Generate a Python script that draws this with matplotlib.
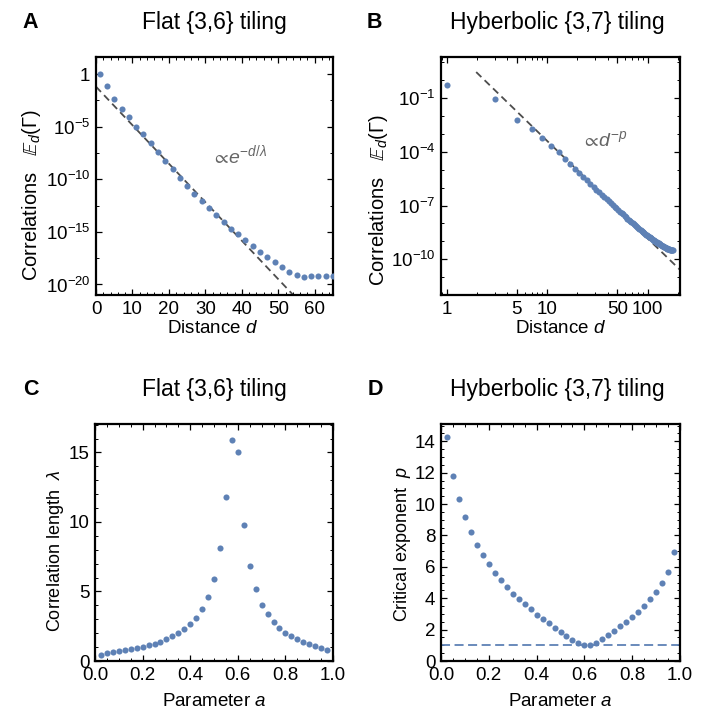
import numpy as np
import matplotlib
matplotlib.use("Agg")
import matplotlib.pyplot as plt
from matplotlib.ticker import FixedLocator, FixedFormatter, MultipleLocator, NullFormatter, LogLocator

plt.rcParams['font.family'] = ['Liberation Sans', 'DejaVu Sans']
plt.rcParams['mathtext.fontset'] = 'custom'
plt.rcParams['mathtext.rm'] = 'Liberation Sans'
plt.rcParams['mathtext.it'] = 'Liberation Sans:italic'
plt.rcParams['mathtext.bf'] = 'Liberation Sans:bold'
plt.rcParams['mathtext.fallback'] = 'stixsans'

BLUE = '#5e81b5'
GREY = '#4d4d4d'

# --- panel A: flat {3,6}, correlations vs distance (log10 values)
dist_flat = np.arange(1, 66, 2)
logE_flat = [0.0, -1.14, -2.41, -3.30, -4.12, -5.01, -5.74, -6.59, -7.42, -8.24,
             -9.06, -9.86, -10.62, -11.41, -12.11, -12.77, -13.44, -14.07, -14.74, -15.24,
             -15.78, -16.36, -16.89, -17.40, -17.88, -18.35, -18.80, -19.12, -19.25, -19.23,
             -19.22, -19.21, -19.21]
fit_flat = (0.0, 55.0, -1.2, -0.366)   # d0, d1, intercept, slope of log10 fit

# --- panel B: hyperbolic {3,7}
dist_hyp = np.arange(1, 178, 2)
logE_hyp = [-0.27, -1.02, -2.20, -2.74, -3.25, -3.70, -4.02, -4.41, -4.70, -4.98,
            -5.20, -5.41, -5.60, -5.79, -5.95, -6.11, -6.26, -6.40, -6.53, -6.65,
            -6.76, -6.87, -6.97, -7.07, -7.16, -7.25, -7.34, -7.42, -7.50, -7.58,
            -7.65, -7.73, -7.80, -7.87, -7.93, -7.99, -8.05, -8.11, -8.17, -8.22,
            -8.27, -8.32, -8.37, -8.42, -8.46, -8.50, -8.54, -8.58, -8.62, -8.66,
            -8.70, -8.74, -8.77, -8.81, -8.84, -8.87, -8.90, -8.93, -8.96, -8.99,
            -9.02, -9.04, -9.07, -9.10, -9.12, -9.15, -9.17, -9.19, -9.22, -9.24,
            -9.26, -9.28, -9.30, -9.32, -9.34, -9.36, -9.38, -9.39, -9.41, -9.42,
            -9.43, -9.44, -9.45, -9.46, -9.47, -9.475, -9.48, -9.48, -9.48]
fit_hyp = (1.97, 215.0, 2.064, -5.45)   # d0, d1, intercept, exponent (log10 y = b + m log10 d)

# --- panels C, D: vs parameter a
param_a = np.arange(1, 40) * 0.025
corr_len = [0.45, 0.55, 0.65, 0.72, 0.80, 0.88, 0.95, 1.03, 1.13, 1.25,
            1.40, 1.57, 1.77, 2.00, 2.28, 2.65, 3.10, 3.72, 4.60, 5.90,
            8.10, 11.8, 15.9, 15.0, 9.80, 6.80, 5.15, 4.05, 3.35, 2.80,
            2.40, 2.05, 1.80, 1.60, 1.40, 1.22, 1.08, 0.95, 0.82]
crit_exp = [14.3, 11.8, 10.3, 9.15, 8.2, 7.4, 6.75, 6.15, 5.6, 5.15,
            4.7, 4.3, 3.95, 3.6, 3.3, 2.95, 2.65, 2.4, 2.12, 1.85,
            1.6, 1.35, 1.12, 1.0, 1.0, 1.15, 1.4, 1.65, 1.92, 2.2,
            2.5, 2.8, 3.15, 3.5, 3.92, 4.4, 4.95, 5.7, 6.92]

fig = plt.figure(figsize=(7.07, 7.12), dpi=100)
W, H = 707, 712

def add_ax(x0, y0, x1, y1):
    return fig.add_axes([x0 / W, 1 - y1 / H, (x1 - x0) / W, (y1 - y0) / H])

def style(ax):
    for s in ax.spines.values():
        s.set_linewidth(1.6)
    ax.tick_params(which='both', direction='in', top=True, right=True, labelsize=13.5, pad=4)
    ax.tick_params(which='major', length=4.5, width=0.9)
    ax.tick_params(which='minor', length=2.5, width=0.7)

axA = add_ax(96, 57, 333, 295)
axB = add_ax(441, 57, 680, 295)
axC = add_ax(95, 424, 333, 661)
axD = add_ax(441, 424, 680, 661)

# A
axA.set_yscale('log')
axA.plot(dist_flat, 10.0 ** np.array(logE_flat), 'o', ms=4.4, color=BLUE, mec='none', zorder=3)
d0, d1, b, m = fit_flat
dd = np.array([d0, d1])
axA.plot(dd, 10.0 ** (b + m * dd), '--', color=GREY, lw=1.3, dashes=(4, 2.5))
axA.set_xlim(0, 65)
axA.set_ylim(10 ** -21.0, 10 ** 1.62)
axA.yaxis.set_major_locator(FixedLocator([1, 1e-5, 1e-10, 1e-15, 1e-20]))
axA.yaxis.set_major_formatter(FixedFormatter(['1', '$10^{-5}$', '$10^{-10}$', '$10^{-15}$', '$10^{-20}$']))
axA.yaxis.set_minor_locator(FixedLocator(10.0 ** np.array([-2.5, -7.5, -12.5, -17.5])))
axA.yaxis.set_minor_formatter(NullFormatter())
axA.xaxis.set_major_locator(MultipleLocator(10))
axA.xaxis.set_minor_locator(MultipleLocator(2))
axA.text(31.5, 10 ** -7.7, r'$\propto\!e^{-d/\lambda}$', color='#666666', fontsize=14, va='center')
style(axA)

# B
axB.set_xscale('log')
axB.set_yscale('log')
axB.plot(dist_hyp, 10.0 ** np.array(logE_hyp), 'o', ms=4.4, color=BLUE, mec='none', zorder=3)
d0, d1, b, m = fit_hyp
dd = np.geomspace(d0, d1, 20)
axB.plot(dd, 10.0 ** (b + m * np.log10(dd)), '--', color=GREY, lw=1.3, dashes=(4, 2.5))
axB.set_xlim(0.88, 210)
axB.set_ylim(10 ** -12.0, 10 ** 1.3)
axB.xaxis.set_major_locator(FixedLocator([1, 5, 10, 50, 100]))
axB.xaxis.set_major_formatter(FixedFormatter(['1', '5', '10', '50', '100']))
axB.xaxis.set_minor_locator(LogLocator(subs=np.arange(2, 10)))
axB.xaxis.set_minor_formatter(NullFormatter())
axB.yaxis.set_major_locator(FixedLocator([1e-1, 1e-4, 1e-7, 1e-10]))
axB.yaxis.set_major_formatter(FixedFormatter(['$10^{-1}$', '$10^{-4}$', '$10^{-7}$', '$10^{-10}$']))
axB.yaxis.set_minor_locator(FixedLocator([1e-12, 1e-11, 1e-9, 1e-8, 1e-6, 1e-5, 1e-3, 1e-2, 1, 10]))
axB.yaxis.set_minor_formatter(NullFormatter())
axB.text(21.5, 10 ** -3.35, r'$\propto\!d^{-p}$', color='#666666', fontsize=14, va='center')
style(axB)

# C
axC.plot(param_a, corr_len, 'o', ms=4.4, color=BLUE, mec='none', zorder=3)
axC.set_xlim(0, 1)
axC.set_ylim(0, 17.05)
axC.xaxis.set_major_locator(FixedLocator([0, 0.2, 0.4, 0.6, 0.8, 1.0]))
axC.xaxis.set_major_formatter(FixedFormatter(['0.0', '0.2', '0.4', '0.6', '0.8', '1.0']))
axC.xaxis.set_minor_locator(MultipleLocator(0.05))
axC.yaxis.set_major_locator(MultipleLocator(5))
axC.yaxis.set_minor_locator(MultipleLocator(1))
style(axC)

# D
axD.plot(param_a, crit_exp, 'o', ms=4.4, color=BLUE, mec='none', zorder=3)
axD.axhline(1.0, color=BLUE, lw=1.3, ls='--', dashes=(5, 2.5))
axD.set_xlim(0, 1)
axD.set_ylim(0, 15.1)
axD.xaxis.set_major_locator(FixedLocator([0, 0.2, 0.4, 0.6, 0.8, 1.0]))
axD.xaxis.set_major_formatter(FixedFormatter(['0.0', '0.2', '0.4', '0.6', '0.8', '1.0']))
axD.xaxis.set_minor_locator(MultipleLocator(0.05))
axD.yaxis.set_major_locator(MultipleLocator(2))
axD.yaxis.set_minor_locator(MultipleLocator(0.5))
style(axD)

# labels
axA.set_xlabel('Distance $d$', fontsize=13.5)
axA.xaxis.set_label_coords(0.49, -0.105)
axA.set_ylabel(r'Correlations   $\mathbb{E}_d(\Gamma)$', fontsize=14.5)
axA.yaxis.set_label_coords(-0.225, 0.42)
axB.set_xlabel('Distance $d$', fontsize=13.5)
axB.xaxis.set_label_coords(0.5, -0.107)
axB.set_ylabel(r'Correlations   $\mathbb{E}_d(\Gamma)$', fontsize=14.5)
axB.yaxis.set_label_coords(-0.213, 0.40)
axC.set_xlabel('Parameter $a$', fontsize=13.5)
axC.xaxis.set_label_coords(0.5, -0.135)
axC.set_ylabel(r'Correlation length  $\lambda$', fontsize=13)
axC.yaxis.set_label_coords(-0.12, 0.464)
axD.set_xlabel('Parameter $a$', fontsize=13.5)
axD.xaxis.set_label_coords(0.5, -0.135)
axD.set_ylabel('Critical exponent  $p$', fontsize=13)
axD.yaxis.set_label_coords(-0.117, 0.494)

# titles and panel letters
titles = ['Flat {3,6} tiling', 'Hyberbolic {3,7} tiling', 'Flat {3,6} tiling', 'Hyberbolic {3,7} tiling']
letters = ['A', 'B', 'C', 'D']
tpos = [(214, 23), (557, 23), (214, 390), (557, 390)]
lpos = [(22, 23), (367, 23), (23, 390), (368, 390)]
for t, (x, y) in zip(titles, tpos):
    fig.text(x / W, 1 - y / H, t, fontsize=16.5, ha='center', va='center')
for l, (x, y) in zip(letters, lpos):
    fig.text(x / W, 1 - y / H, l, fontsize=15.5, fontweight='bold', ha='left', va='center')

fig.savefig('out.png', dpi=100)
